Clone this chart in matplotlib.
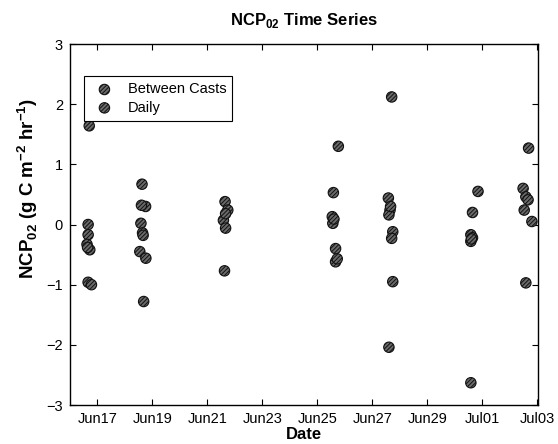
import datetime as dt
import matplotlib
matplotlib.use("Agg")
import matplotlib.pyplot as plt
import matplotlib.dates as mdates

plt.rcParams['font.family'] = ['Liberation Sans', 'DejaVu Sans']
plt.rcParams['hatch.linewidth'] = 0.7
plt.rcParams['mathtext.fontset'] = 'custom'
plt.rcParams['mathtext.bf'] = 'Liberation Sans:bold'
plt.rcParams['mathtext.rm'] = 'Liberation Sans'

# NCP_02 estimates, time given as fractional day of June (32.6 -> Jul 2.6)
between_day = [16.70, 16.66, 16.66, 16.62, 16.72, 16.66, 16.78,
               18.62, 18.75, 18.60, 18.58, 18.64, 18.54, 18.76, 18.68,
               21.64, 21.74, 21.58, 21.66, 21.62,
               25.76, 25.58, 25.54, 25.56, 25.66, 25.66, 25.72,
               27.70, 27.58, 27.64, 27.60, 27.74, 27.70, 27.74, 27.60,
               30.84, 30.64, 30.58, 30.64, 30.58, 30.58,
               32.68, 32.48, 32.58, 32.66, 32.52, 32.80]
between_ncp = [1.64, 0.00, -0.17, -0.33, -0.42, -0.96, -1.00,
               0.67, 0.30, 0.32, 0.02, -0.14, -0.45, -0.56, -1.28,
               0.38, 0.24, 0.07, -0.06, -0.77,
               1.30, 0.53, 0.13, 0.02, -0.40, -0.62, -0.57,
               2.12, 0.44, 0.24, 0.16, -0.12, -0.23, -0.95, -2.04,
               0.55, 0.20, -0.17, -0.22, -0.28, -2.63,
               1.27, 0.60, 0.46, 0.41, 0.24, 0.05]

daily_day = [16.64, 18.66, 21.66, 25.60, 27.66, 30.60, 32.58]
daily_ncp = [-0.38, -0.18, 0.18, 0.09, 0.30, -0.24, -0.97]

start = dt.datetime(2000, 6, 1)
def to_dates(days):
    return [start + dt.timedelta(days=d - 1) for d in days]

fig = plt.figure(figsize=(5.58, 4.44), dpi=100)
ax = fig.add_axes([0.1254, 0.0878, 0.8387, 0.8131])

marker_kw = dict(s=56, facecolor='#6a6a6a', edgecolor='#111111',
                 hatch='////////', linewidths=0.8, zorder=3)
ax.scatter(to_dates(between_day), between_ncp, label='Between Casts', **marker_kw)
ax.scatter(to_dates(daily_day), daily_ncp, label='Daily', **marker_kw)

ax.set_xlim(dt.datetime(2000, 6, 16), dt.datetime(2000, 7, 3, 0, 30))
ax.set_ylim(-3, 3)
ax.xaxis.set_major_locator(mdates.DayLocator(bymonthday=[17, 19, 21, 23, 25, 27, 29, 1, 3]))
ax.xaxis.set_major_formatter(mdates.DateFormatter('%b%d'))
ax.set_yticks([-3, -2, -1, 0, 1, 2, 3])

ax.tick_params(direction='in', top=True, right=True, length=4, width=0.8,
               labelsize=10.5, pad=5)
for sp in ax.spines.values():
    sp.set_linewidth(1.0)

ax.set_title(r'NCP$_{\mathbf{02}}$ Time Series', fontsize=12, fontweight='bold', pad=14)
ax.set_xlabel('Date', fontsize=12, fontweight='bold', labelpad=1)
ax.set_ylabel(r'NCP$_{\mathbf{02}}$ (g C m$^{\mathbf{-2}}$ hr$^{\mathbf{-1}}$)',
              fontsize=13.5, fontweight='bold')
ax.yaxis.set_label_coords(-0.064, 0.6)

leg = ax.legend(loc='upper left', bbox_to_anchor=(0.03, 0.91), fontsize=10.5,
                frameon=True, fancybox=False, edgecolor='black', framealpha=1,
                handletextpad=0.6, borderpad=0.4, labelspacing=0.3,
                borderaxespad=0)
leg.get_frame().set_linewidth(0.8)

fig.savefig('out.png', dpi=100)
